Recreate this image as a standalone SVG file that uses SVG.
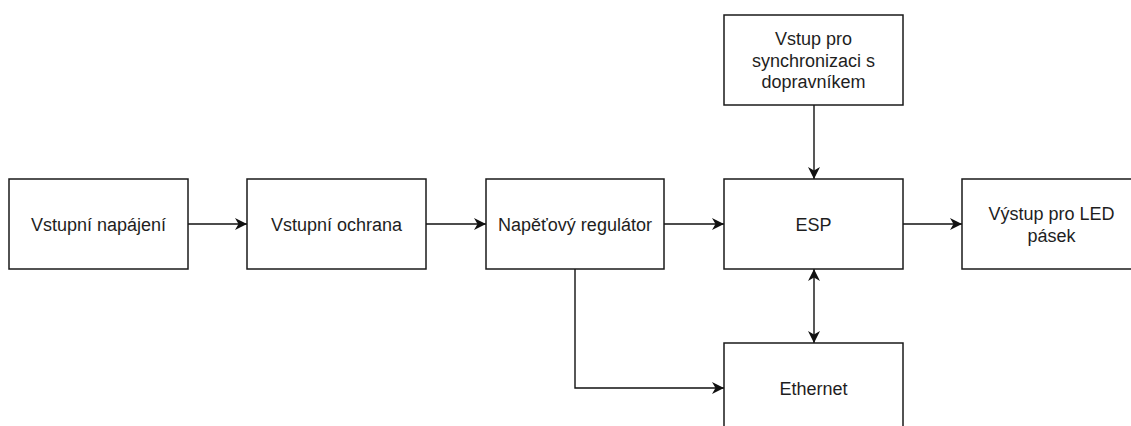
<svg xmlns="http://www.w3.org/2000/svg" width="1131" height="426" viewBox="0 0 1131 426">
<style>
.box{fill:#fff;stroke:#1a1a1a;stroke-width:1.5}
.lbl{font-family:"Liberation Sans",Arial,sans-serif;font-size:18px;fill:#1e1e1e;text-anchor:middle}
.edge{fill:none;stroke:#111;stroke-width:1.4}
</style>
<defs>
<marker id="arr" markerUnits="userSpaceOnUse" markerWidth="14" markerHeight="14" refX="12" refY="6" orient="auto-start-reverse">
<path d="M0,0 L12,6 L0,12 L3.5,6 Z" fill="#111"/>
</marker>
</defs>
<rect width="1131" height="426" fill="#fff"/>
<g id="connectors">
<line class="edge" x1="188" y1="224" x2="247" y2="224" marker-end="url(#arr)"/>
<line class="edge" x1="426" y1="224" x2="486" y2="224" marker-end="url(#arr)"/>
<line class="edge" x1="664" y1="224" x2="724" y2="224" marker-end="url(#arr)"/>
<line class="edge" x1="903" y1="224" x2="962" y2="224" marker-end="url(#arr)"/>
<line class="edge" x1="814" y1="105" x2="814" y2="179" marker-end="url(#arr)"/>
<line class="edge" x1="814" y1="269" x2="814" y2="343" marker-start="url(#arr)" marker-end="url(#arr)"/>
<polyline class="edge" points="575,269 575,388 724,388" marker-end="url(#arr)"/>
</g>
<g id="vstupni-napajeni">
<rect class="box" x="9" y="179" width="179" height="90"/>
<text class="lbl" x="98.5" y="230.5">Vstupní napájení</text>
</g>
<g id="vstupni-ochrana">
<rect class="box" x="247" y="179" width="179" height="90"/>
<text class="lbl" x="336.5" y="230.5">Vstupní ochrana</text>
</g>
<g id="napetovy-regulator">
<rect class="box" x="486" y="179" width="178" height="90"/>
<text class="lbl" x="575" y="230.5">Napěťový regulátor</text>
</g>
<g id="esp">
<rect class="box" x="724" y="179" width="179" height="90"/>
<text class="lbl" x="813.5" y="230.5">ESP</text>
</g>
<g id="vystup-led">
<rect class="box" x="962" y="179" width="179" height="90"/>
<text class="lbl" x="1051.5" y="220">Výstup pro LED</text>
<text class="lbl" x="1051.5" y="241.5">pásek</text>
</g>
<g id="synchronizace">
<rect class="box" x="724" y="15" width="179" height="90"/>
<text class="lbl" x="813.5" y="45">Vstup pro</text>
<text class="lbl" x="813.5" y="66.5">synchronizaci s</text>
<text class="lbl" x="813.5" y="88">dopravníkem</text>
</g>
<g id="ethernet">
<rect class="box" x="724" y="343" width="179" height="90"/>
<text class="lbl" x="813.5" y="394.5">Ethernet</text>
</g>
</svg>
